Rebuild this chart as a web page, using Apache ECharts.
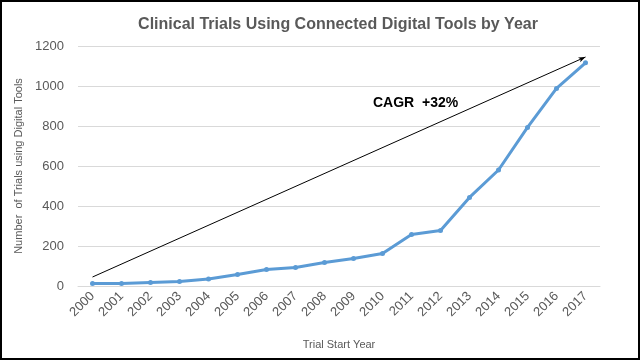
<!DOCTYPE html>
<html><head><meta charset="utf-8">
<script src="https://cdn.jsdelivr.net/npm/echarts@6/dist/echarts.min.js"></script>
<style>html,body{margin:0;padding:0;background:#fff}#c{width:640px;height:360px}</style>
</head><body><div id="c"></div>
<script>
const years = ['2000','2001','2002','2003','2004','2005','2006','2007','2008','2009','2010','2011','2012','2013','2014','2015','2016','2017'];
const trials = [13, 13, 18, 23, 35, 58, 83, 93, 118, 138, 163, 257, 277, 443, 580, 793, 988, 1116];
const yTicks = [0, 200, 400, 600, 800, 1000, 1200];
const trendStart = ['2000', 45];
const trendEnd = ['2017', 1145];
const cagrText = 'CAGR  +32%';

const chart = echarts.init(document.getElementById('c'));
const font = '"Liberation Sans", Arial, sans-serif';
chart.setOption({
  animation: false,
  title: {
    text: 'Clinical Trials Using Connected Digital Tools by Year',
    left: 333, top: 12, textAlign: 'center',
    textStyle: {fontFamily: font, fontSize: 16, fontWeight: 'bold', color: '#595959'}
  },
  grid: {left: 78, right: 40, top: 46, bottom: 74},
  xAxis: {
    type: 'category', data: years, boundaryGap: true,
    name: 'Trial Start Year', nameLocation: 'middle', nameGap: 53,
    nameTextStyle: {fontFamily: font, fontSize: 11, color: '#595959'},
    axisLine: {lineStyle: {color: '#d9d9d9'}},
    axisTick: {show: false},
    axisLabel: {rotate: 45, fontFamily: font, fontSize: 13, color: '#595959', margin: 8, interval: 0}
  },
  yAxis: {
    type: 'value', min: yTicks[0], max: yTicks[yTicks.length-1], interval: 200,
    name: 'Number  of Trials using Digital Tools', nameLocation: 'middle', nameGap: 47,
    nameTextStyle: {fontFamily: font, fontSize: 11, color: '#595959'},
    axisLine: {show: false}, axisTick: {show: false},
    axisLabel: {fontFamily: font, fontSize: 13, color: '#595959', margin: 14, formatter: v => String(v)},
    splitLine: {lineStyle: {color: '#d9d9d9'}}
  },
  graphic: [
    {type: 'rect', shape: {x: 1, y: 1, width: 638, height: 358}, style: {fill: 'none', stroke: '#000', lineWidth: 2}, silent: true},
    {type: 'text', left: 373, top: 96, style: {text: cagrText, fontFamily: font, fontSize: 14, fontWeight: 'bold', fill: '#000'}}
  ],
  series: [{
    type: 'line', data: trials,
    lineStyle: {color: '#5B9BD5', width: 3},
    itemStyle: {color: '#5B9BD5'},
    symbol: 'circle', symbolSize: 5, showSymbol: true,
    markLine: {
      silent: true, symbol: ['none', 'arrow'], symbolSize: [4, 7],
      label: {show: false},
      lineStyle: {color: '#000', width: 1, type: 'solid'},
      data: [[{coord: trendStart}, {coord: trendEnd}]]
    }
  }]
});
</script></body></html>
